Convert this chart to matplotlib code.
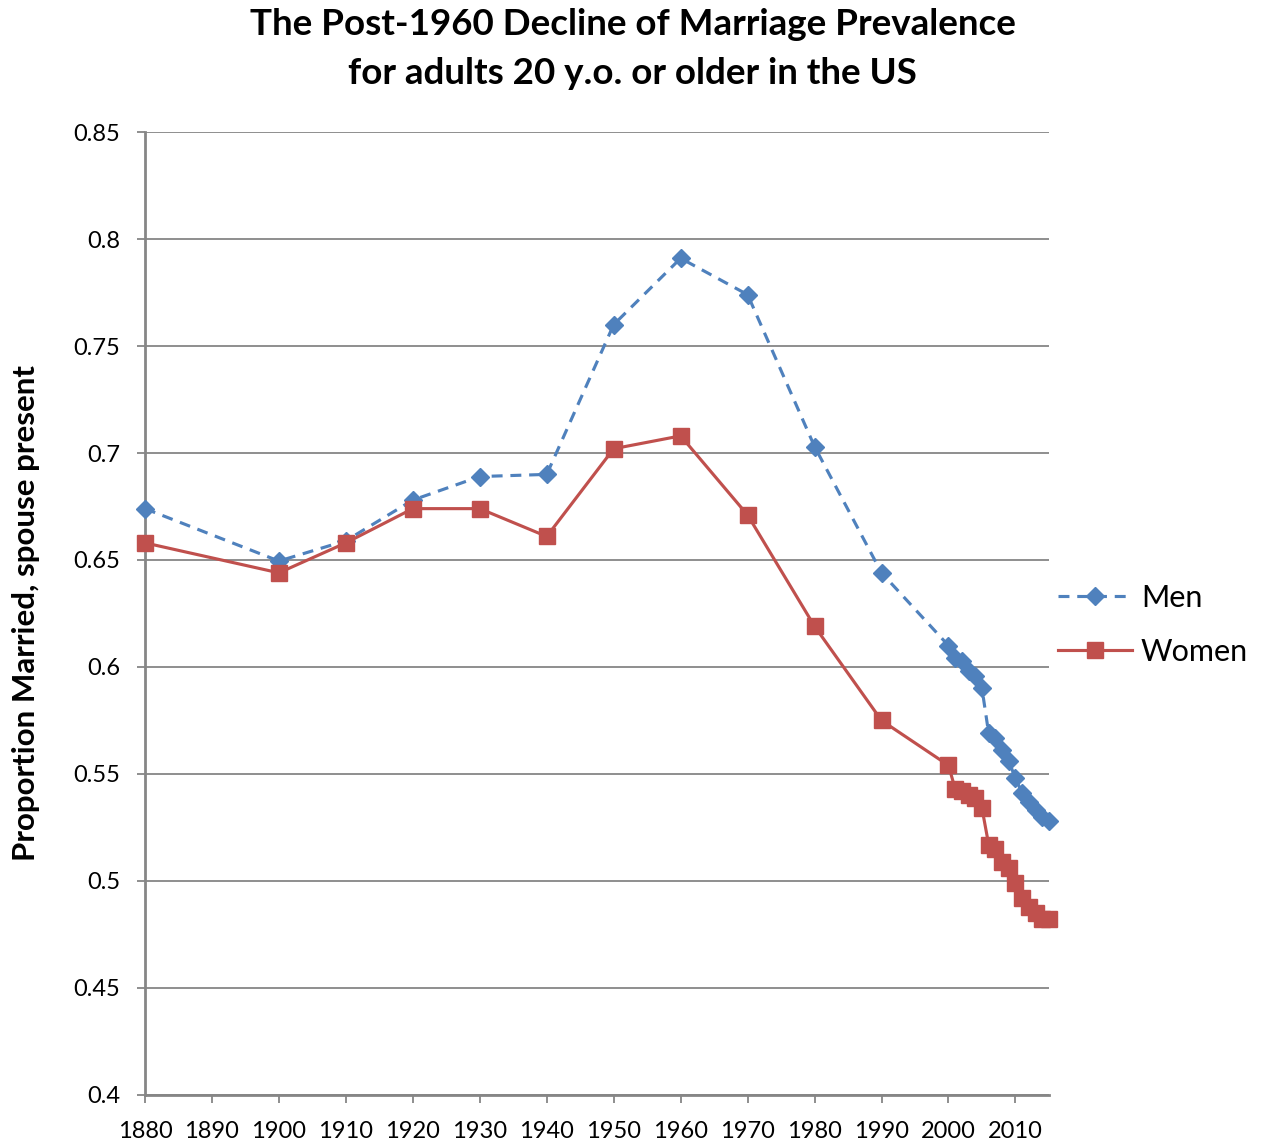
import matplotlib
matplotlib.use("Agg")
import matplotlib.pyplot as plt

plt.rcParams['font.family'] = ['Lato', 'DejaVu Sans']

# data
years = [1880, 1900, 1910, 1920, 1930, 1940, 1950, 1960, 1970, 1980, 1990,
         2000, 2001, 2002, 2003, 2004, 2005, 2006, 2007, 2008, 2009, 2010,
         2011, 2012, 2013, 2014, 2015]
men = [0.674, 0.6495, 0.659, 0.678, 0.689, 0.690, 0.760, 0.791, 0.774, 0.703, 0.644,
       0.610, 0.604, 0.603, 0.598, 0.596, 0.590, 0.569, 0.567, 0.561, 0.556, 0.548,
       0.541, 0.537, 0.533, 0.530, 0.528]
women = [0.658, 0.644, 0.658, 0.674, 0.674, 0.661, 0.702, 0.708, 0.671, 0.619, 0.575,
         0.554, 0.543, 0.542, 0.540, 0.539, 0.534, 0.517, 0.515, 0.509, 0.506, 0.499,
         0.492, 0.488, 0.485, 0.482, 0.482]
xticks = list(range(1880, 2011, 10))
yticks = [0.4, 0.45, 0.5, 0.55, 0.6, 0.65, 0.7, 0.75, 0.8, 0.85]

blue = '#4F81BD'
red = '#C0504D'
axis_grey = '#868686'

fig = plt.figure(figsize=(12.65, 11.48), dpi=100)
ax = fig.add_axes([0.1146, 0.0462, 0.7146, 0.8388])

ax.plot(years, men, color=blue, lw=2.25, dashes=(3.5, 2.5),
        marker='D', markersize=8.8, label='Men', clip_on=False, zorder=3)
ax.plot(years, women, color=red, lw=2.25,
        marker='s', markersize=11.5, label='Women', clip_on=False, zorder=3)

ax.set_xlim(1880, 2015)
ax.set_ylim(0.4, 0.85)
ax.set_xticks(xticks)
ax.set_yticks(yticks)
ax.set_yticklabels([f'{v:g}' for v in yticks])
ax.yaxis.grid(True, color=axis_grey, lw=1.3)
ax.set_axisbelow(True)

for side in ['top', 'right']:
    ax.spines[side].set_visible(False)
for side in ['left', 'bottom']:
    ax.spines[side].set_color(axis_grey)
    ax.spines[side].set_linewidth(2)
ax.tick_params(axis='both', colors=axis_grey, length=6, width=1.3,
               labelcolor='black', labelsize=17)
ax.tick_params(axis='x', pad=13)
ax.tick_params(axis='y', pad=12)

ax.set_ylabel('Proportion Married, spouse present', fontsize=22.5,
              fontweight='bold', labelpad=24)
fig.suptitle('The Post-1960 Decline of Marriage Prevalence\nfor adults 20 y.o. or older in the US',
             fontsize=26.5, fontweight='bold', y=0.993, linespacing=1.6)

ax.legend(loc='center left', bbox_to_anchor=(0.836, 0.4556),
          bbox_transform=fig.transFigure, frameon=False, fontsize=22,
          borderpad=0, borderaxespad=0,
          handlelength=2.45, labelspacing=0.85, handletextpad=0.28)

fig.savefig('out.png', dpi=100, facecolor='white')
